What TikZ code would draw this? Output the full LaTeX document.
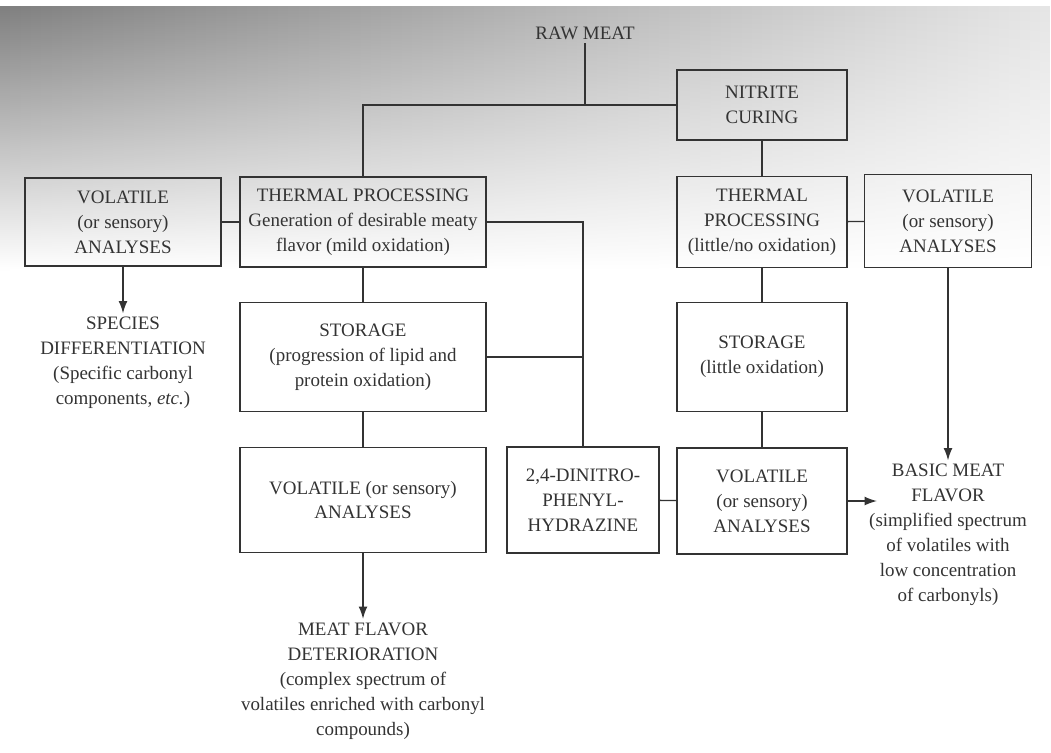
\documentclass[tikz,border=0pt]{standalone}
\usepackage{fontspec}
\setmainfont{Liberation Serif}
\usetikzlibrary{arrows.meta,fadings}

\tikzfading[name=pagefade, top color=transparent!0, bottom color=transparent!100]

\tikzset{
  procbox/.style={draw=black!80, line width=0.8pt, align=center, text=black!80, inner sep=2pt},
  plaintext/.style={align=center, text=black!80, inner sep=2pt},
  link/.style={draw=black!80, line width=0.8pt},
  flow/.style={link, -{Latex[length=7pt,width=5pt]}},
}

\begin{document}
\begin{tikzpicture}[x=0.02cm, y=-0.02cm, font=\fontsize{10.8}{14.2}\selectfont]
  \useasboundingbox (0,0) rectangle (1051,752);
  % tint of the scanned page
  \shade[left color=black!50, right color=black!10, path fading=pagefade] (0,7) rectangle (1051,270);

  \node[plaintext] (raw) at (585,33) {RAW MEAT};
  \node[procbox, minimum width=3.4cm, minimum height=1.4cm] (nitrite) at (762,105) {NITRITE\\CURING};

  \node[procbox, minimum width=3.92cm, minimum height=1.76cm] (volA) at (123,222) {VOLATILE\\(or sensory)\\ANALYSES};
  \node[procbox, minimum width=4.92cm, minimum height=1.8cm] (thermA) at (363,222) {THERMAL PROCESSING\\Generation of desirable meaty\\flavor (mild oxidation)};
  \node[procbox, minimum width=3.4cm, minimum height=1.82cm] (thermB) at (762,222) {THERMAL\\PROCESSING\\(little/no oxidation)};
  \node[procbox, minimum width=3.34cm, minimum height=1.86cm] (volB) at (948,221) {VOLATILE\\(or sensory)\\ANALYSES};

  \node[procbox, minimum width=4.92cm, minimum height=2.18cm] (storA) at (363,357) {STORAGE\\(progression of lipid and\\protein oxidation)};
  \node[procbox, minimum width=3.4cm, minimum height=2.18cm] (storB) at (762,357) {STORAGE\\(little oxidation)};

  \node[procbox, minimum width=4.92cm, minimum height=2.1cm] (volC) at (363,500) {VOLATILE (or sensory)\\ANALYSES};
  \node[procbox, minimum width=3.04cm, minimum height=2.12cm] (dnph) at (583,500) {2,4-DINITRO-\\PHENYL-\\HYDRAZINE};
  \node[procbox, minimum width=3.4cm, minimum height=2.12cm] (volD) at (762,501) {VOLATILE\\(or sensory)\\ANALYSES};

  \node[plaintext] (species) at (123,363) {SPECIES\\DIFFERENTIATION\\(Specific carbonyl\\components, \emph{etc.})};
  \node[plaintext] (meatfl) at (363,681) {MEAT FLAVOR\\DETERIORATION\\(complex spectrum of\\volatiles enriched with carbonyl\\compounds)};
  \node[plaintext] (basic) at (948,535) {BASIC MEAT\\FLAVOR\\(simplified spectrum\\of volatiles with\\low concentration\\of carbonyls)};
  \coordinate (basictip) at (877,501);

  \draw[link] (raw.south) -- (raw.south |- nitrite.west);
  \draw[link] (thermA.north) |- (nitrite.west);
  \draw[link] (nitrite) -- (thermB);
  \draw[link] (volA) -- (thermA);
  \draw[link] (thermB) -- (volB);
  \draw[link] (thermA) -- (storA);
  \draw[link] (storA) -- (volC);
  \draw[link] (thermB) -- (storB);
  \draw[link] (storB) -- (volD);
  \draw[link] (dnph) -- (volD);
  \draw[link] (thermA.east) -| (dnph.north);
  \draw[link] (storA.east) -- (storA.east -| dnph.north);

  \draw[flow] (volA) -- (species);
  \draw[flow] (volC) -- (meatfl);
  \draw[flow] (volB) -- (basic);
  \draw[flow] (volD.east) -- (basictip);
\end{tikzpicture}
\end{document}
